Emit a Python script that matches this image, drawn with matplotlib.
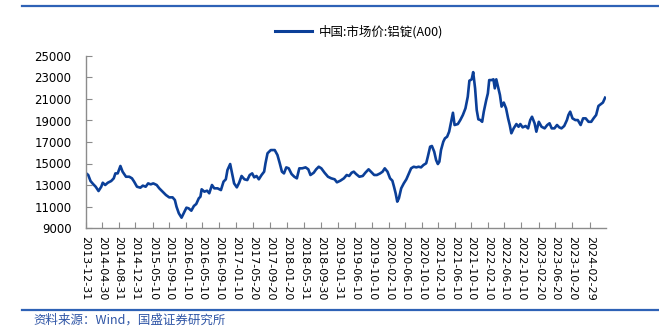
import matplotlib
matplotlib.use("Agg")
import matplotlib.pyplot as plt
import matplotlib.dates as mdates
import pandas as pd
from matplotlib.lines import Line2D

plt.rcParams['font.family'] = ['DejaVu Sans', 'Noto Sans CJK SC']

series_name = "中国:市场价:铝锭(A00)"
source_note = "资料来源：Wind，国盛证券研究所"

dates = [
    "2013-12-31", "2014-01-20", "2014-02-06", "2014-02-25", "2014-03-16", "2014-04-06",
    "2014-04-26", "2014-05-07", "2014-05-25", "2014-06-13", "2014-07-08", "2014-07-27",
    "2014-08-08", "2014-08-25", "2014-09-14", "2014-09-30", "2014-10-25", "2014-11-18",
    "2014-12-08", "2014-12-24", "2015-01-14", "2015-02-08", "2015-02-26", "2015-03-19",
    "2015-04-06", "2015-04-25", "2015-05-14", "2015-06-08", "2015-06-27", "2015-07-22",
    "2015-08-15", "2015-09-08", "2015-10-03", "2015-10-20", "2015-11-01", "2015-11-18",
    "2015-12-08", "2015-12-24", "2016-01-13", "2016-01-29", "2016-02-18", "2016-03-08",
    "2016-03-25", "2016-04-13", "2016-04-25", "2016-05-04", "2016-05-24", "2016-06-13",
    "2016-06-29", "2016-07-19", "2016-08-05", "2016-08-29", "2016-09-23", "2016-10-12",
    "2016-10-29", "2016-11-10", "2016-11-30", "2016-12-16", "2016-12-29", "2017-01-18",
    "2017-02-04", "2017-02-22", "2017-03-15", "2017-04-05", "2017-04-23", "2017-05-11",
    "2017-05-26", "2017-06-12", "2017-06-29", "2017-07-19", "2017-08-07", "2017-08-17",
    "2017-09-01", "2017-09-25", "2017-10-24", "2017-11-13", "2017-11-30", "2017-12-16",
    "2017-12-31", "2018-01-17", "2018-02-04", "2018-02-25", "2018-03-17", "2018-04-05",
    "2018-04-23", "2018-05-14", "2018-06-08", "2018-06-28", "2018-07-14", "2018-08-07",
    "2018-08-25", "2018-09-13", "2018-10-02", "2018-10-26", "2018-11-20", "2018-12-14",
    "2019-01-08", "2019-01-25", "2019-02-19", "2019-03-17", "2019-04-07", "2019-04-25",
    "2019-05-13", "2019-05-29", "2019-06-15", "2019-07-09", "2019-08-03", "2019-08-22",
    "2019-09-15", "2019-10-02", "2019-10-26", "2019-11-15", "2019-12-09", "2019-12-27",
    "2020-01-12", "2020-02-01", "2020-02-20", "2020-03-08", "2020-03-20", "2020-04-01",
    "2020-04-13", "2020-04-25", "2020-05-12", "2020-05-31", "2020-06-19", "2020-07-06",
    "2020-07-24", "2020-08-12", "2020-08-31", "2020-09-17", "2020-10-05", "2020-10-23",
    "2020-11-12", "2020-11-24", "2020-12-11", "2020-12-24", "2021-01-10", "2021-01-24",
    "2021-02-06", "2021-02-17", "2021-03-01", "2021-03-18", "2021-03-30", "2021-04-15",
    "2021-04-30", "2021-05-17", "2021-05-28", "2021-06-09", "2021-07-03", "2021-07-21",
    "2021-08-09", "2021-08-28", "2021-09-14", "2021-09-26", "2021-10-13", "2021-10-24",
    "2021-11-07", "2021-11-19", "2021-12-01", "2021-12-16", "2021-12-29", "2022-01-10",
    "2022-01-28", "2022-02-09", "2022-02-19", "2022-03-08", "2022-03-22", "2022-04-01",
    "2022-04-12", "2022-04-25", "2022-05-09", "2022-05-21", "2022-06-06", "2022-06-23",
    "2022-07-08", "2022-07-20", "2022-08-01", "2022-08-18", "2022-09-07", "2022-09-23",
    "2022-10-06", "2022-10-23", "2022-11-14", "2022-12-02", "2022-12-18", "2022-12-31",
    "2023-01-19", "2023-02-01", "2023-02-19", "2023-03-11", "2023-04-03", "2023-04-22",
    "2023-05-09", "2023-05-25", "2023-06-14", "2023-07-03", "2023-07-20", "2023-08-05",
    "2023-08-25", "2023-09-14", "2023-09-25", "2023-10-08", "2023-10-25", "2023-11-15",
    "2023-12-03", "2023-12-24", "2024-01-11", "2024-01-30", "2024-02-20", "2024-03-11",
    "2024-03-28", "2024-04-16", "2024-05-03", "2024-05-21", "2024-06-05", "2024-06-21",
]

prices = [
    14140, 13930, 13370, 13090, 12840, 12440,
    12840, 13210, 13000, 13210, 13370, 13620,
    14080, 14080, 14770, 14240, 13770, 13770,
    13620, 13310, 12840, 12750, 12940, 12840,
    13150, 13060, 13150, 13000, 12690, 12380,
    12070, 11850, 11850, 11600, 10980, 10370,
    9960, 10370, 10890, 10830, 10610, 11050,
    11230, 11760, 11910, 12600, 12380, 12470,
    12230, 13000, 12690, 12690, 12530, 13310,
    13530, 14390, 14950, 13930, 13150, 12780,
    13210, 13840, 13530, 13460, 13930, 14080,
    13710, 13840, 13530, 13930, 14240, 15020,
    15950, 16250, 16250, 15790, 15020, 14240,
    14080, 14640, 14550, 14020, 13770, 13620,
    14550, 14550, 14640, 14460, 13930, 14140,
    14460, 14700, 14550, 14140, 13770, 13620,
    13530, 13250, 13400, 13620, 13930, 13840,
    14140, 14240, 14020, 13770, 13840, 14140,
    14460, 14240, 13930, 13930, 14080, 14240,
    14550, 14240, 13620, 13400, 12840, 12230,
    11450, 11760, 12690, 13150, 13530, 14020,
    14550, 14700, 14640, 14700, 14640, 14860,
    15020, 15630, 16560, 16630, 16100, 15320,
    14950, 15170, 16250, 17030, 17340, 17490,
    17960, 19040, 19720, 18580, 18670, 19040,
    19510, 20130, 21210, 22700, 22830, 23500,
    21990, 19970, 19110, 19040, 18880, 19820,
    20900, 21520, 22760, 22760, 22830, 21990,
    22830, 22140, 21370, 20290, 20670, 20130,
    19200, 18580, 17810, 18270, 18670, 18420,
    18670, 18360, 18490, 18270, 19040, 19350,
    18740, 17960, 18880, 18420, 18270, 18580,
    18740, 18270, 18270, 18580, 18360, 18270,
    18490, 19040, 19510, 19820, 19200, 19040,
    19040, 18580, 19200, 19200, 18880, 18880,
    19200, 19510, 20350, 20530, 20670, 21120,
]

tick_labels = [
    "2013-12-31", "2014-04-30", "2014-08-31", "2014-12-31", "2015-05-10", "2015-09-10",
    "2016-01-10", "2016-05-10", "2016-09-10", "2017-01-10", "2017-05-20", "2017-09-20",
    "2018-01-20", "2018-05-31", "2018-09-30", "2019-01-31", "2019-06-10", "2019-10-10",
    "2020-02-10", "2020-06-10", "2020-10-10", "2021-02-10", "2021-06-10", "2021-10-10",
    "2022-02-10", "2022-06-10", "2022-10-10", "2023-02-20", "2023-06-20", "2023-10-20",
    "2024-02-29",
]

y_ticks = list(range(9000, 25001, 2000))

line_color = "#0B3F98"
rule_color = "#2E62B6"
axis_color = "#8C8C8C"

W, H = 659, 335
fig = plt.figure(figsize=(W / 100, H / 100), dpi=100)
ax = fig.add_axes([85.5 / W, 1 - 228 / H, (605.5 - 85.5) / W, (228 - 56) / H])

x = pd.to_datetime(dates)
ax.plot(x, prices, color=line_color, lw=1.9, solid_joinstyle="round")

ax.set_ylim(y_ticks[0], y_ticks[-1])
ax.set_yticks(y_ticks)
ax.set_xlim(pd.Timestamp(dates[0]), pd.Timestamp(dates[-1]) + pd.Timedelta(days=3))
ax.set_xticks(pd.to_datetime(tick_labels))
ax.set_xticklabels(tick_labels, rotation=-90, fontsize=8)
ax.tick_params(axis="y", labelsize=8.5, direction="in", length=4, color=axis_color, pad=10)
ax.tick_params(axis="x", direction="in", length=4, color=axis_color, pad=6)

for side in ("top", "right"):
    ax.spines[side].set_visible(False)
for side in ("left", "bottom"):
    ax.spines[side].set_color(axis_color)
    ax.spines[side].set_linewidth(1.0)

handle = Line2D([], [], color=line_color, lw=2.2)
fig.legend([handle], [series_name], loc="center", bbox_to_anchor=(359 / W, 1 - 32 / H),
           frameon=False, handlelength=3.0, handletextpad=0.5,
           prop={"family": ["Noto Sans CJK SC", "DejaVu Sans"], "size": 9})

# header and footer rules
fig.add_artist(Line2D([22 / W, 1.0], [1 - 6 / H, 1 - 6 / H], color=rule_color, lw=1.6))
fig.add_artist(Line2D([22 / W, 1.0], [1 - 310 / H, 1 - 310 / H], color=rule_color, lw=1.6))

fig.text(33 / W, 1 - 320 / H, source_note, color="#2F55A6", fontsize=9, style="italic",
         family=["Noto Sans CJK SC", "DejaVu Sans"], va="center", ha="left")

fig.savefig("out.png", dpi=100)
